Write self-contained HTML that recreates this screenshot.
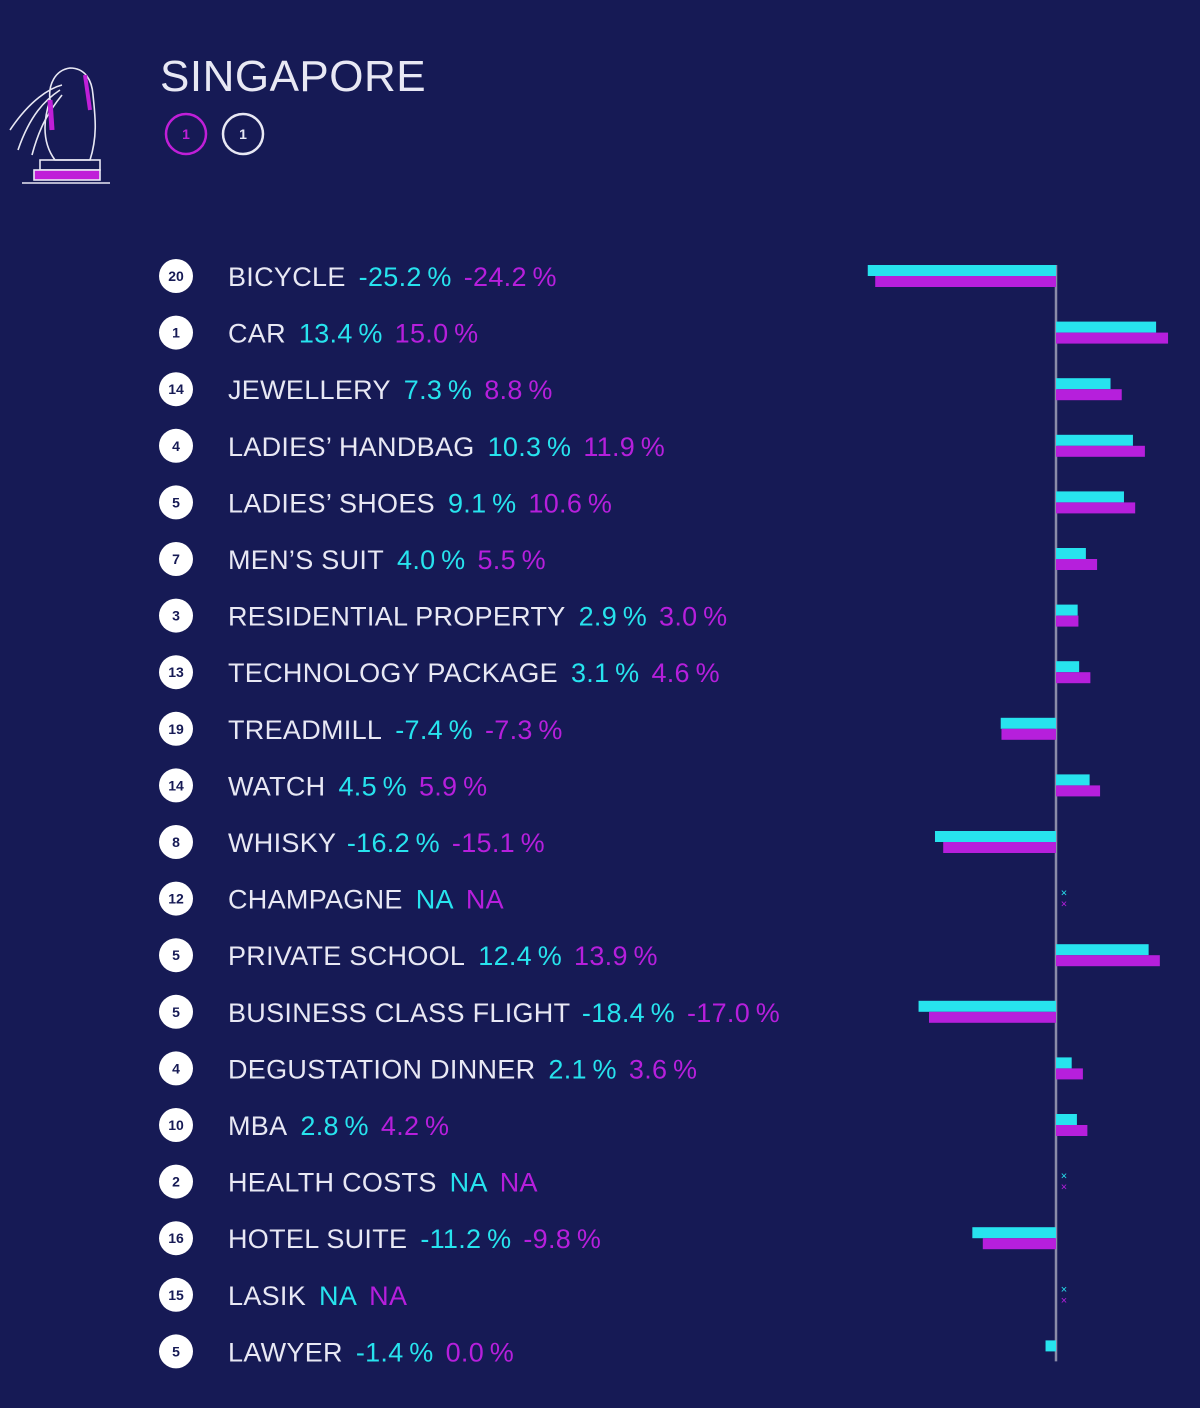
<!DOCTYPE html>
<html><head><meta charset="utf-8"><style>
html,body{margin:0;padding:0;background:#161a55;}
svg{display:block;font-family:"Liberation Sans",sans-serif;}
</style></head><body>
<svg id="chart" width="1200" height="1408" viewBox="0 0 1200 1408">
<rect width="1200" height="1408" fill="#161a55"/>
<g fill="none" stroke="#e8e8f4" stroke-width="1.6">
<path d="M55 160 C40 140 45 115 50 100 C48 85 55 70 70 68 C85 68 92 80 93 95 C95 115 98 135 90 160 Z"/>
<path d="M62 85 C50 88 30 100 10 130 M60 90 C45 100 30 115 18 150 M62 95 C50 110 40 125 32 155"/>
<rect x="40" y="160" width="60" height="10"/>
<line x1="22" y1="183" x2="110" y2="183"/>
<rect x="34" y="170" width="66" height="10" fill="#c01fd8" stroke="#e8e8f4"/>
<path d="M85 75 L90 110" stroke="#c01fd8" stroke-width="4"/>
<path d="M50 100 L52 130" stroke="#c01fd8" stroke-width="5"/>
</g>
<text x="160" y="91" font-size="44" fill="#e8e8f4" letter-spacing="0.5">SINGAPORE</text>
<g>
<circle cx="186" cy="134" r="20" fill="none" stroke="#c01fd8" stroke-width="2.5"/>
<text x="186" y="139" font-size="14" fill="#c01fd8" text-anchor="middle" font-weight="bold">1</text>
<circle cx="243" cy="134" r="20" fill="none" stroke="#e8e8f4" stroke-width="2.5"/>
<text x="243" y="139" font-size="14" fill="#e8e8f4" text-anchor="middle" font-weight="bold">1</text>
</g>
<g id="rows"></g>
<g id="bars"></g>
</svg>
<script>
const categories=["BICYCLE","CAR","JEWELLERY","LADIES’ HANDBAG","LADIES’ SHOES","MEN’S SUIT","RESIDENTIAL PROPERTY","TECHNOLOGY PACKAGE","TREADMILL","WATCH","WHISKY","CHAMPAGNE","PRIVATE SCHOOL","BUSINESS CLASS FLIGHT","DEGUSTATION DINNER","MBA","HEALTH COSTS","HOTEL SUITE","LASIK","LAWYER"];
const ranks=[20,1,14,4,5,7,3,13,19,14,8,12,5,5,4,10,2,16,15,5];
const seriesCyan=[-25.2,13.4,7.3,10.3,9.1,4.0,2.9,3.1,-7.4,4.5,-16.2,null,12.4,-18.4,2.1,2.8,null,-11.2,null,-1.4];
const seriesMagenta=[-24.2,15.0,8.8,11.9,10.6,5.5,3.0,4.6,-7.3,5.9,-15.1,null,13.9,-17.0,3.6,4.2,null,-9.8,null,0.0];
const NS="http://www.w3.org/2000/svg";
const CY="#27e3ee",MG="#b61fdc";
const x0=1056,scale=7.47;
const xPos=v=>x0+v*scale;
const yPos=i=>276+i*56.6;
const fmt=v=>v===null?"NA":v.toFixed(1)+"\u2009%";
const rows=document.getElementById('rows'),bars=document.getElementById('bars');
function mk(tag,attrs,parent){const e=document.createElementNS(NS,tag);for(const k in attrs)e.setAttribute(k,attrs[k]);parent.appendChild(e);return e;}
const axis=mk('line',{x1:x0,x2:x0,y1:yPos(0)-11,y2:yPos(19)+10,stroke:'#8a8ca8','stroke-width':2.5},bars);


categories.forEach((c,i)=>{
 const y=yPos(i);
 const b=mk('circle',{cx:176,cy:y,r:17,fill:'#ffffff'},rows);
 
 
 const rt=mk('text',{x:176,y:y+5,'font-size':14,'font-weight':'bold',fill:'#161a55','text-anchor':'middle'},rows);
 rt.textContent=ranks[i];
 
 
 const t=mk('text',{x:228,y:y+10,'font-size':27,fill:'#e8e8f4','letter-spacing':'0.3'},rows);
 
 
 const s1=mk('tspan',{},t);s1.textContent=c;
 const s2=mk('tspan',{fill:CY,dx:13},t);s2.textContent=fmt(seriesCyan[i]);
 const s3=mk('tspan',{fill:MG,dx:12},t);s3.textContent=fmt(seriesMagenta[i]);
 [[seriesCyan[i],CY,y-11,'bar-cyan'],[seriesMagenta[i],MG,y,'bar-magenta']].forEach(([v,col,yy,nm])=>{
  if(v===null){
   const x=mk('text',{x:1064,y:yy+9,'font-size':11,fill:col,'text-anchor':'middle'},bars);
   x.textContent='×';
   
   
   return;
  }
  const xa=Math.min(xPos(v),x0),w=Math.abs(xPos(v)-x0);
  const r=mk('rect',{x:xa,y:yy,width:w,height:11,fill:col},bars);
  
  
 });
});
</script>
</body></html>
